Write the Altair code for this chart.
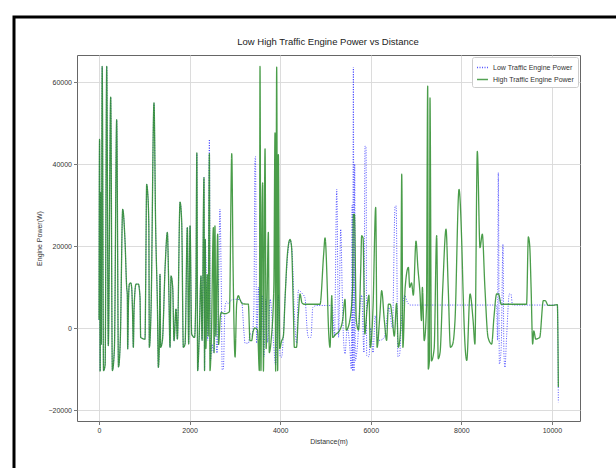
import altair as alt
import pandas as pd

# High traffic (green solid) readings: distance (m), engine power (W)
high_dist = [0, 12, 25, 38, 50, 70, 100, 135, 170, 205, 258, 295, 340, 390, 430, 470,
             523, 574, 611, 625, 633, 650, 670, 700, 721, 740, 758, 775, 817, 869, 905, 920,
             1016, 1030, 1052, 1075, 1100, 1111, 1150, 1214, 1250, 1290, 1310, 1330, 1347, 1360,
             1400, 1460, 1509, 1540, 1568, 1590, 1627, 1656, 1700, 1730, 1789, 1825, 1862, 1900,
             1950, 1980, 2010, 2046, 2110, 2140, 2160, 2178, 2210, 2252, 2275, 2318, 2330, 2345,
             2360, 2390, 2410, 2437, 2450, 2480, 2525, 2540, 2560, 2580, 2620, 2640, 2680, 2700,
             2760, 2820, 2880, 2931, 2960, 3004, 3040, 3077, 3110, 3170, 3297, 3334, 3370, 3400,
             3440, 3500, 3540, 3555, 3575, 3600, 3614, 3630, 3666, 3690, 3739, 3760, 3800, 3860,
             3886, 3900, 3923, 3945, 3960, 3990, 4030, 4070, 4107, 4160, 4217, 4250, 4290, 4313,
             4360, 4400, 4439, 4480, 4530, 4880, 4960, 4990, 5040, 5060, 5100, 5140, 5160, 5230,
             5300, 5380, 5432, 5460, 5540, 5600, 5616, 5640, 5680, 5730, 5780, 5799, 5830, 5870,
             5920, 5960, 5990, 6050, 6109, 6140, 6200, 6241, 6300, 6350, 6390, 6430, 6470, 6520,
             6570, 6610, 6660, 6684, 6710, 6760, 6831, 6860, 6900, 6940, 6999, 7040, 7088, 7120,
             7140, 7180, 7230, 7257, 7270, 7295, 7308, 7340, 7400, 7455, 7490, 7530, 7590, 7662,
             7710, 7760, 7810, 7860, 7949, 8008, 8040, 8080, 8120, 8192, 8260, 8300, 8353, 8412,
             8463, 8520, 8590, 8670, 8720, 8779, 8820, 8880, 9440, 9480, 9510, 9540, 9575, 9600,
             9642, 9730, 9811, 9850, 9920, 10000, 10120, 10142]
high_power = [2000, 46000, -10500, 33000, -4000, 63800, -10400, -9000, 63800, -4300, 56300, -10400, -5000, 50800, -9500, -3000,
              28950, 21250, 9900, 8000, -5100, 6000, 10700, 11000, 9900, 4000, -4700, 5000, 10700, 10700, 7500, -2300,
              -2700, 10000, 35000, 33000, 25000, -4700, 5000, 54900, 25000, 5000, -9600, -5000, 13100, -4700,
              -3000, 15000, 23300, 10000, -4700, 12700, 9900, -3100, 4600, -2700, 30700, 26100, -4700, -3900,
              24500, -3900, 24900, -1500, -2300, 10000, 42700, -10400, -3000, 12700, -3000, 36700, -10400, 21600,
              -5000, 13000, -2000, 42500, -10400, -3000, 24500, -6000, 24900, -2000, 22900, -4000, 3000, 3800,
              3500, 3600, 4000, 42500, 15000, -7100, 6000, 7900, 7000, 5900, 5800, -3100, -3100, -1000,
              0, -500, -10400, 63800, -10400, 30000, 35400, -10500, 43700, -5000, 23300, -6000, -3000, 10000,
              47600, -10500, 63600, -10400, 42300, -5000, -3200, -2000, 7000, 18000, 21600, 20000, 5000, -4700,
              -4700, 3000, 8300, 6200, 5800, 5800, 18000, 22000, 9900, 2000, -4700, 7900, -2300, -1500,
              -800, 2000, 7000, -500, 2000, 10000, 27700, 27700, 2000, -500, 15000, 22500, 22000, -1500,
              5000, 8000, -4700, 5000, 29400, -4700, 3000, 9100, 1800, -3000, 5800, 5800, 3000, -2000,
              6000, -4700, 0, 37500, -4700, 9900, 14800, 9900, 11000, 8000, 21200, 14800, 8300, 1800,
              9900, -3100, 5000, 59000, -10000, -8000, 56100, -8000, -5000, 22500, -7500, -6000, 9900, 24100,
              9900, -4700, -3900, 1800, 33800, 21200, 8300, -3900, -7900, 8300, 1800, -3900, 43100, 19600,
              22900, 9900, -2300, -3900, 2600, 8300, 8300, 5800, 5800, 22200, 20000, 9900, -3900, -700,
              -2700, -2300, 6700, 6700, 5500, 5500, 5700, -14400]

# Low traffic (blue dotted): same path as high traffic up to ~2345 m, then these readings
shared_until = 2345
low_tail_dist = [2400, 2437, 2460, 2495, 2530, 2570, 2605, 2640, 2670, 2700, 2720, 2745, 2782, 2820,
                 2850, 2950, 3050, 3150, 3200, 3224, 3300, 3334, 3380, 3420, 3444, 3455, 3480, 3520,
                 3560, 3600, 3640, 3680, 3720, 3780, 3850, 3900, 3960, 4000, 4033, 4070, 4120, 4217,
                 4260, 4320, 4365, 4400, 4480, 4548, 4600, 4622, 4680, 4720, 4806, 5150, 5200, 5249,
                 5290, 5337, 5370, 5400, 5432, 5480, 5540, 5570, 5590, 5600, 5616, 5630, 5645, 5660,
                 5700, 5760, 5800, 5850, 5873, 5896, 5910, 5960, 6000, 6050, 6100, 6150, 6200, 6300,
                 6400, 6480, 6536, 6560, 6600, 6634, 6680, 6750, 6800, 6870, 8780, 8800, 8816, 8840,
                 8880, 8919, 8940, 8963, 9000, 9060, 9095, 9130, 10120, 10142]
low_tail_power = [-3000, 46000, -8000, -4000, -6100, 1000, -6100, 10000, 29000, 10000, -10200, -10000, 5200, 6500,
                  6000, 7000, 7000, 6500, -1000, -3700, -3700, -1300, -2000, 5000, 41400, 41800, -3700, 10000,
                  -3000, 8000, -7000, 7000, -3500, 7000, -3000, -9000, 8000, -7000, -7100, -2000, 10000, 21500,
                  19000, 2000, -3700, 9200, 8500, 7300, -1000, -2300, -2300, 5000, 5500, 5500, -2000, 33800,
                  -2300, 24100, 9000, -3000, -6300, 0, -5000, -10000, 30000, -10500, 63600, -10500, 40000, -8000,
                  -5000, 5000, 8000, -6000, 44400, 44000, -6700, -7000, 0, -6000, 3000, -3000, -3000, -2300,
                  5000, 0, 29600, 29800, -7000, -6700, 2000, 8000, 6500, 5600, 5600, -3000, 37900, -8800,
                  -5000, 20400, -6000, -9600, -2000, 8300, 8300, 5600, 5600, -18100]

LOW = "Low Traffic Engine Power"
HIGH = "High Traffic Engine Power"
TITLE = "Low High Traffic Engine Power vs Distance"

k = len([d for d in high_dist if d <= shared_until])
low_dist = high_dist[:k] + low_tail_dist
low_power = high_power[:k] + low_tail_power

df_low = pd.DataFrame({"dist": low_dist, "power": low_power, "series": LOW, "ord": range(len(low_dist))})
df_high = pd.DataFrame({"dist": high_dist, "power": high_power, "series": HIGH, "ord": range(len(high_dist))})

FONT = "Liberation Sans"

x_enc = alt.X("dist:Q", title="Distance(m)",
              scale=alt.Scale(domain=[-486, 10620], nice=False, zero=False),
              axis=alt.Axis(values=[0, 2000, 4000, 6000, 8000, 10000], format="d"))
y_enc = alt.Y("power:Q", title="Engine Power(W)",
              scale=alt.Scale(domain=[-22680, 66590], nice=False, zero=False),
              axis=alt.Axis(values=[-20000, 0, 20000, 40000, 60000], format="d",
                            titleX=-35, titleY=183, titleAngle=-90))
color_enc = alt.Color("series:N",
                      scale=alt.Scale(domain=[LOW, HIGH], range=["#2a2aff", "#2a8c2a"]),
                      legend=alt.Legend(title=None, orient="top-right", symbolType="stroke",
                                        offset=2, padding=4, rowPadding=2,
                                        labelFontSize=7, labelFont=FONT, labelColor="#333",
                                        symbolSize=120, symbolStrokeWidth=1.4,
                                        fillColor="white", strokeColor="#cccccc",
                                        cornerRadius=2))
dash_enc = alt.StrokeDash("series:N",
                          scale=alt.Scale(domain=[LOW, HIGH], range=[[1, 1.5], [1, 0]]),
                          legend=None)

low = alt.Chart(df_low).mark_line(strokeWidth=1.0, opacity=0.8, interpolate="monotone").encode(
    x=x_enc, y=y_enc, color=color_enc, strokeDash=dash_enc, order="ord:Q")
high = alt.Chart(df_high).mark_line(strokeWidth=1.3, opacity=0.85, interpolate="monotone").encode(
    x=x_enc, y=y_enc, color=color_enc, strokeDash=dash_enc, order="ord:Q")

one = pd.DataFrame({"t": [TITLE]})
frame = alt.Chart(one).mark_rect(
    fill=None, stroke="black", strokeWidth=3, clip=False).encode(
    x=alt.value(-63), x2=alt.value(600), y=alt.value(-38), y2=alt.value(460))
title = alt.Chart(one).mark_text(
    font=FONT, fontSize=9.5, color="#222", align="center", baseline="middle", clip=False).encode(
    x=alt.value(251), y=alt.value(-13), text="t:N")

chart = alt.layer(frame, title, low, high).properties(
    width=503, height=366,
    autosize=alt.AutoSizeParams(type="none"),
    padding={"left": 77, "top": 55, "right": 36, "bottom": 47},
    background="white",
).configure_view(stroke="#666", strokeWidth=1).configure_axis(
    grid=True, gridColor="#d8d8d8", gridWidth=0.9, domain=False,
    tickColor="#555", tickSize=3.5, tickWidth=0.8,
    labelFont=FONT, labelFontSize=7, labelColor="#333", labelPadding=2,
    titleFont=FONT, titleFontSize=7, titleColor="#333", titleFontWeight="normal"
).configure_axisX(titlePadding=4)

chart.save("out.html", embed_options={"renderer": "svg", "actions": False})
